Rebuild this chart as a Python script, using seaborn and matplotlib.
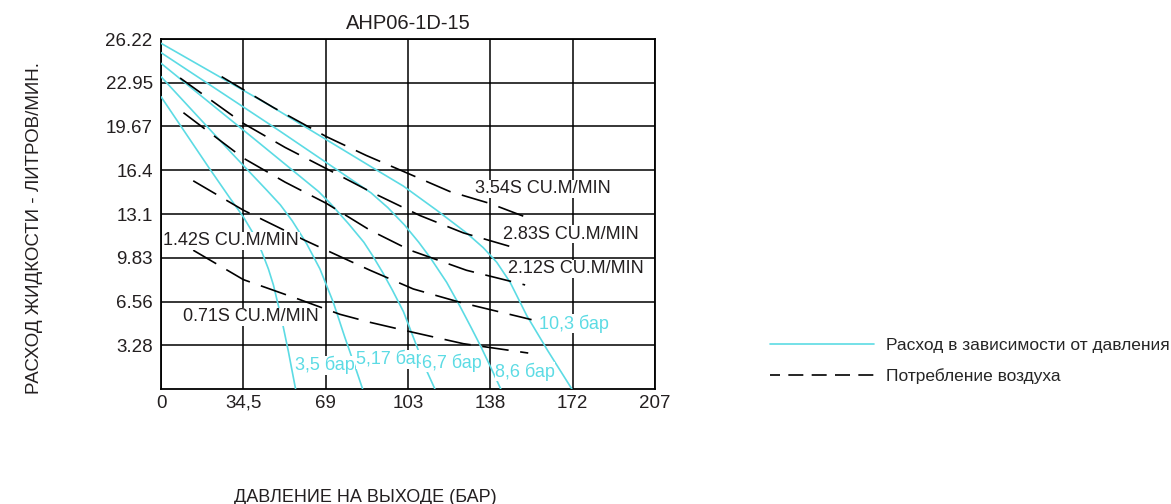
import pandas as pd
import seaborn as sns
import matplotlib.pyplot as plt
from matplotlib.lines import Line2D

sns.set_theme(style="white")
plt.rcParams['font.family'] = ['Liberation Sans', 'DejaVu Sans']

title = "AHP06-1D-15"
x_label = "ДАВЛЕНИЕ НА ВЫХОДЕ (БАР)"
y_label = "РАСХОД ЖИДКОСТИ - ЛИТРОВ/МИН."
x_ticks = [0, 34.5, 69, 103.5, 138, 172.5, 207]
x_tick_labels = ["0", "34,5", "69", "103", "138", "172", "207"]
y_ticks = [3.28, 6.56, 9.83, 13.1, 16.4, 19.67, 22.95, 26.22]
y_tick_labels = ["3.28", "6.56", "9.83", "13.1", "16.4", "19.67", "22.95", "26.22"]

# flow vs outlet pressure, one curve per inlet pressure
flow_names = ["3,5 бар", "5,17 бар", "6,7 бар", "8,6 бар", "10,3 бар"]
flow_x = [
    [0, 20, 28.9, 34.5, 38.5, 42.2, 45, 47.1, 50.6, 53.4, 56.4],
    [0, 30, 44.3, 50, 55, 61, 66.6, 72.2, 77, 81.3, 84.5],
    [0, 40, 66, 71, 78.5, 85, 89, 93, 97, 101.6, 105.7, 110, 114.8],
    [0, 50, 88, 95, 102, 108, 113, 119.7, 125.3, 130, 134, 138, 142.4],
    [0, 46, 87.6, 101.6, 115.5, 128, 135, 140.7, 146.3, 153.3, 162, 172.2],
]
flow_y = [
    [21.9, 16.6, 14.3, 12.9, 11.7, 10.3, 9.0, 7.8, 5.2, 2.8, 0],
    [23.4, 17.6, 14.9, 13.8, 12.6, 10.9, 9.0, 6.5, 3.9, 1.7, 0],
    [24.4, 18.6, 14.8, 13.9, 12.4, 11.0, 9.9, 8.7, 7.4, 5.8, 3.9, 1.9, 0],
    [25.2, 19.3, 14.7, 13.6, 12.3, 11.0, 9.8, 8.0, 6.2, 4.6, 3.2, 1.7, 0],
    [25.9, 21.2, 16.7, 15.2, 13.4, 11.7, 10.6, 9.5, 8.0, 5.5, 2.9, 0],
]

# air consumption curves
air_names = ["0.71S CU.M/MIN", "1.42S CU.M/MIN", "2.12S CU.M/MIN", "2.83S CU.M/MIN", "3.54S CU.M/MIN"]
air_x = [
    [13.5, 34.5, 58.2, 75, 87.6, 104.4, 126.7, 153.9],
    [13.5, 34.5, 59.6, 77.8, 87.6, 105.7, 125.3, 155.3],
    [9.4, 34.5, 52, 69.4, 87.6, 104.4, 128, 152.6],
    [8, 34.5, 52, 69.4, 87.6, 108.5, 126.7, 149.8],
    [25.4, 47, 69.4, 86, 101.6, 121, 137.9, 152.6],
]
air_y = [
    [10.4, 8.2, 6.7, 5.6, 5.0, 4.3, 3.4, 2.7],
    [15.6, 13.4, 11.2, 9.7, 8.9, 7.5, 6.5, 5.2],
    [20.7, 17.3, 15.5, 13.9, 11.9, 10.4, 8.9, 7.8],
    [23.3, 19.9, 18.1, 16.5, 14.8, 13.0, 11.7, 10.5],
    [23.4, 21.1, 18.9, 17.5, 16.3, 14.8, 13.9, 12.9],
]

# where the curve names are written (left edge, vertical centre)
flow_label_pos = [(56.2, 1.8), (81.7, 2.25), (109.3, 2.0), (140, 1.3), (158.6, 4.9)]
air_label_pos = [(9.1, 5.4), (1.0, 11.1), (145.6, 9.0), (143.4, 11.6), (131.6, 15.0)]

legend_labels = ["Расход в зависимости от давления", "Потребление воздуха"]

cyan = "#5cdbe4"
dash = (0, (16, 7))

flow_df = pd.concat(
    [pd.DataFrame({"curve": n, "p": x, "q": y}) for n, x, y in zip(flow_names, flow_x, flow_y)]
)
air_df = pd.concat(
    [pd.DataFrame({"curve": n, "p": x, "q": y}) for n, x, y in zip(air_names, air_x, air_y)]
)

fig = plt.figure(figsize=(11.71, 5.04), dpi=100)
ax = fig.add_axes([0.1375, 0.228, 0.4218, 0.6946])

sns.lineplot(data=flow_df, x="p", y="q", units="curve", estimator=None,
             color=cyan, lw=1.2, ax=ax, zorder=3)
sns.lineplot(data=air_df, x="p", y="q", units="curve", estimator=None,
             color="black", lw=1.2, linestyle=dash, ax=ax, zorder=3)

for name, (x, y) in zip(flow_names, flow_label_pos):
    ax.text(x, y, name, color=cyan, fontsize=13, ha="left", va="center", zorder=5,
            bbox=dict(facecolor="white", edgecolor="none", pad=0.2))
for name, (x, y) in zip(air_names, air_label_pos):
    ax.text(x, y, name, color="#231f20", fontsize=13, ha="left", va="center", zorder=5,
            bbox=dict(facecolor="white", edgecolor="none", pad=0.2))

ax.set_xlim(0, 207)
ax.set_ylim(0, 26.22)
ax.set_xticks(x_ticks)
ax.set_xticklabels(x_tick_labels)
ax.set_yticks(y_ticks)
ax.set_yticklabels(y_tick_labels)
ax.tick_params(length=0, labelsize=13.5, labelcolor="#231f20")
ax.tick_params(axis="y", pad=6)
ax.tick_params(axis="x", pad=4)
ax.grid(True, color="black", lw=1.1)
for s in ax.spines.values():
    s.set_color("black")
    s.set_linewidth(1.3)

ax.set_title(title, fontsize=14.5, color="#231f20", pad=7)
ax.set_xlabel(x_label, fontsize=13, color="#231f20")
ax.set_ylabel(y_label, fontsize=13.5, color="#231f20")
ax.xaxis.set_label_coords(0.413, -0.285)
ax.yaxis.set_label_coords(-0.238, 0.46)

handles = [Line2D([], [], color=cyan, lw=1.2),
           Line2D([], [], color="black", lw=1.2, linestyle=(3, (9, 5)))]
fig.legend(handles, legend_labels, loc="center left", bbox_to_anchor=(0.6576, 0.2837),
           frameon=False, fontsize=12.5, handlelength=6, handletextpad=0.7,
           labelspacing=0.85, borderpad=0, borderaxespad=0)

fig.savefig("out.png", dpi=100)
